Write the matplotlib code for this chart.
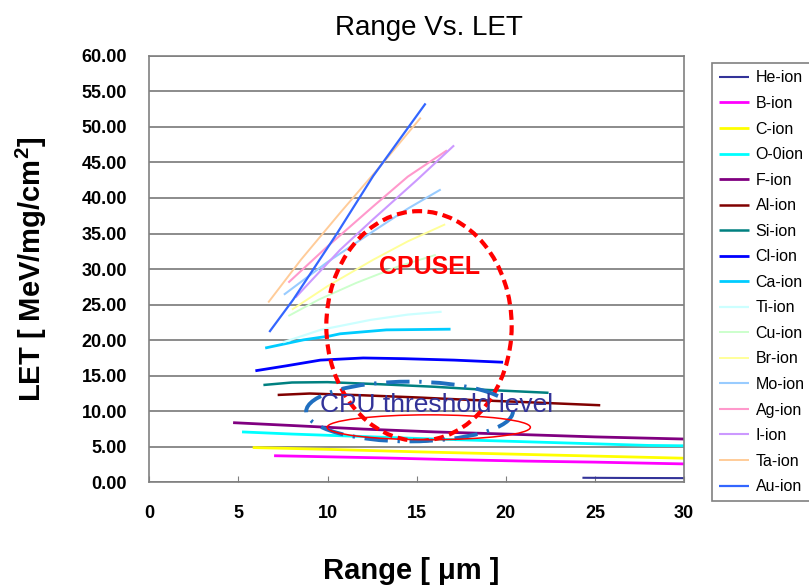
"""Range vs. LET curves for heavy ions, with the CPU SEL / threshold regions marked."""

import matplotlib
matplotlib.use("Agg")
import matplotlib.pyplot as plt
from matplotlib.patches import Ellipse

# ion names, as in the legend
ions = ["He-ion", "B-ion", "C-ion", "O-0ion", "F-ion", "Al-ion", "Si-ion", "Cl-ion",
        "Ca-ion", "Ti-ion", "Cu-ion", "Br-ion", "Mo-ion", "Ag-ion", "I-ion", "Ta-ion", "Au-ion"]

# range [um] and LET [MeV/mg/cm2], one pair per ion
he_range = [24.3, 27.0, 30.0]
he_let = [0.65, 0.62, 0.60]
b_range = [7.0, 10.0, 13.0, 17.0, 21.0, 25.0, 28.0, 30.0]
b_let = [3.75, 3.60, 3.45, 3.20, 3.00, 2.85, 2.70, 2.60]
c_range = [5.8, 10.0, 15.0, 20.0, 25.0, 30.0]
c_let = [4.90, 4.65, 4.30, 4.00, 3.70, 3.40]
o_range = [5.2, 8.0, 12.0, 16.0, 20.0, 24.0, 28.0, 30.0]
o_let = [7.10, 6.80, 6.45, 6.10, 5.80, 5.50, 5.20, 5.15]
f_range = [4.7, 8.0, 12.0, 16.0, 20.0, 25.0, 30.0]
f_let = [8.40, 8.00, 7.50, 7.10, 6.80, 6.40, 6.10]
al_range = [7.2, 9.0, 12.0, 15.0, 18.0, 21.0, 25.3]
al_let = [12.30, 12.50, 12.25, 11.95, 11.60, 11.30, 10.85]
si_range = [6.4, 8.0, 10.0, 13.0, 16.0, 19.0, 22.4]
si_let = [13.70, 14.05, 14.10, 13.80, 13.45, 13.00, 12.60]
cl_range = [5.95, 7.7, 9.6, 12.0, 14.3, 17.1, 19.85]
cl_let = [15.7, 16.4, 17.2, 17.5, 17.4, 17.2, 16.9]
ca_range = [6.5, 8.65, 10.15, 10.7, 13.3, 16.9]
ca_let = [18.9, 20.05, 20.6, 20.9, 21.45, 21.55]
ti_range = [7.5, 9.6, 12.4, 14.5, 16.4]
ti_let = [19.7, 21.45, 22.85, 23.6, 24.0]
cu_range = [7.8, 9.5, 11.6, 14.0, 16.07]
cu_let = [23.4, 25.7, 28.05, 30.4, 32.0]
br_range = [8.0, 10.0, 12.55, 14.5, 16.6]
br_let = [24.3, 27.6, 31.3, 33.9, 36.3]
mo_range = [7.55, 10.0, 12.55, 14.5, 16.35]
mo_let = [26.4, 31.0, 35.3, 38.5, 41.2]
ag_range = [7.8, 10.0, 12.55, 14.5, 16.7]
ag_let = [28.1, 33.2, 38.8, 43.0, 46.7]
i_range = [8.2, 10.7, 12.55, 15.0, 17.1]
i_let = [26.0, 32.7, 37.0, 42.5, 47.4]
ta_range = [6.67, 8.5, 10.7, 13.0, 15.23]
ta_let = [25.3, 31.3, 37.9, 44.6, 51.3]
au_range = [6.73, 8.07, 10.5, 12.56, 15.5]
au_let = [21.15, 25.7, 34.9, 43.1, 53.3]

ranges = [he_range, b_range, c_range, o_range, f_range, al_range, si_range, cl_range,
          ca_range, ti_range, cu_range, br_range, mo_range, ag_range, i_range, ta_range, au_range]
lets = [he_let, b_let, c_let, o_let, f_let, al_let, si_let, cl_let,
        ca_let, ti_let, cu_let, br_let, mo_let, ag_let, i_let, ta_let, au_let]

x_ticks = [0, 5, 10, 15, 20, 25, 30]
y_ticks = [0, 5, 10, 15, 20, 25, 30, 35, 40, 45, 50, 55, 60]

# excel default series palette
colors = ["#333399", "#FF00FF", "#FFFF00", "#00FFFF", "#800080", "#800000", "#008080", "#0000FF",
          "#00CCFF", "#CCFFFF", "#CCFFCC", "#FFFF99", "#99CCFF", "#FF99CC", "#CC99FF", "#FFCC99", "#3366FF"]
widths = [1.5, 2.0, 2.0, 2.0, 2.0, 1.8, 1.8, 2.0, 2.0, 1.6, 1.4, 1.4, 1.5, 1.5, 1.5, 1.4, 1.6]


def main():
    plt.rcParams['font.family'] = ['Liberation Sans', 'DejaVu Sans']
    plt.rcParams['mathtext.fontset'] = 'custom'
    plt.rcParams['mathtext.rm'] = 'Liberation Sans:bold'
    plt.rcParams['mathtext.default'] = 'rm'

    fig = plt.figure(figsize=(8.09, 5.88), dpi=100)
    ax = fig.add_axes([0.1846, 0.1796, 0.6609, 0.7255])

    for name, xs, ys, col, lw in zip(ions, ranges, lets, colors, widths):
        ax.plot(xs, ys, color=col, lw=lw, label=name, solid_capstyle='butt')

    # marked regions (hand drawn on the original slide)
    ax.add_patch(Ellipse((15.13, 22.0), 10.4, 32.3, fill=False, ec='#FF0000', lw=3,
                         ls=(0, (2.4, 1.3)), zorder=5))
    ax.add_patch(Ellipse((14.6, 9.97), 11.6, 8.4, fill=False, ec='#1F6FC0', lw=2.8,
                         ls=(0, (6, 2.5, 0.6, 2.5)), zorder=5))
    ax.add_patch(Ellipse((15.68, 7.75), 11.4, 3.5, fill=False, ec='#FF0000', lw=1.1, zorder=5))
    ax.text(15.7, 30.3, "CPUSEL", color='#FF0000', fontsize=18, fontweight='bold',
            ha='center', va='center', zorder=6)
    ax.text(16.1, 10.9, "CPU threshold level", color='#333399', fontsize=19,
            ha='center', va='center', zorder=6)

    ax.set_xlim(0, 30)
    ax.set_ylim(0, 60)
    ax.set_xticks(x_ticks)
    ax.set_xticklabels([str(t) for t in x_ticks])
    ax.set_yticks(y_ticks)
    ax.set_yticklabels([f"{t:.2f}" for t in y_ticks])
    ax.tick_params(axis='x', direction='in', length=4, color='#808080', pad=16,
                   labelsize=13)
    ax.tick_params(axis='y', length=0, pad=16, labelsize=13)
    for lab in ax.get_xticklabels() + ax.get_yticklabels():
        lab.set_fontweight('bold')
    ax.yaxis.grid(True, color='#787878', lw=1.2)
    ax.set_axisbelow(True)
    for sp in ax.spines.values():
        sp.set_color('#808080')
        sp.set_linewidth(1.2)

    ax.set_xlabel("Range [ \u03bcm ]", fontsize=21, fontweight='bold')
    ax.xaxis.set_label_coords(0.49, -0.175)
    ax.set_ylabel("LET [ MeV/mg/cm$^2$]", fontsize=21, fontweight='bold')
    ax.yaxis.set_label_coords(-0.187, 0.5)

    fig.text(429 / 809, 1 - 35 / 588, "Range Vs. LET", ha='center', va='baseline', fontsize=20)

    leg = ax.legend(loc='upper left', bbox_to_anchor=(711.7 / 809, 1 - 63.3 / 588),
                    bbox_transform=fig.transFigure, borderaxespad=0, fontsize=11.5,
                    handlelength=1.9, handletextpad=0.4, labelspacing=0.66, borderpad=0.45,
                    fancybox=False, framealpha=1)
    leg.get_frame().set_edgecolor('#808080')
    leg.get_frame().set_linewidth(1.2)

    fig.savefig("out.png", dpi=100)


if __name__ == "__main__":
    main()
